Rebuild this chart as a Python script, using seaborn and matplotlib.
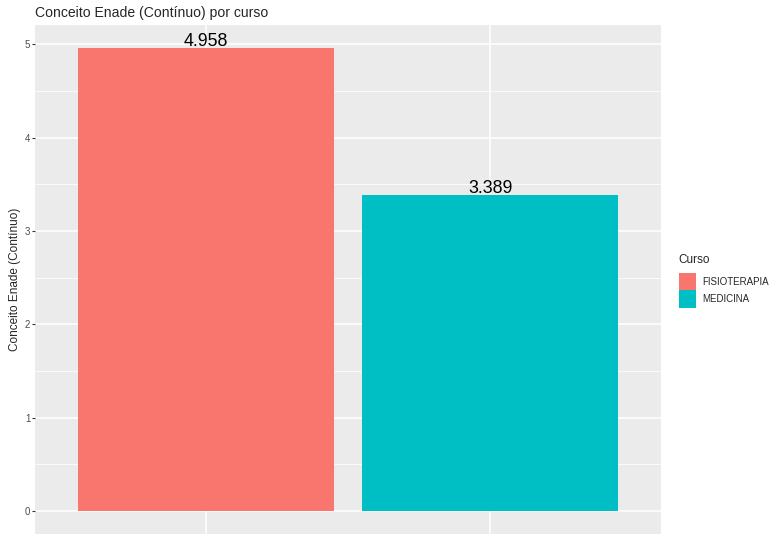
import numpy as np
import pandas as pd
import seaborn as sns
import matplotlib.pyplot as plt
from matplotlib.patches import Patch
from matplotlib.ticker import MultipleLocator

# dados do grafico
cursos = ["FISIOTERAPIA", "MEDICINA"]
conceito = [4.958, 3.389]
cores = ["#F8766D", "#00BFC4"]
y_ticks = [0, 1, 2, 3, 4, 5]

df = pd.DataFrame({"Curso": cursos, "Conceito": conceito})

sns.set_style("white")
plt.rcParams["font.family"] = ["Liberation Sans", "DejaVu Sans"]

fig = plt.figure(figsize=(7.71, 5.34), dpi=100)
ax = fig.add_axes([35 / 771, 0.0, (661 - 35) / 771, (534 - 25) / 534])

sns.barplot(data=df, x="Curso", y="Conceito", hue="Curso", palette=cores,
            width=0.9, dodge=False, legend=False, saturation=1,
            linewidth=0, edgecolor="none", ax=ax)

# rotulos em cima das barras
for i, v in enumerate(df["Conceito"]):
    ax.annotate(f"{v:.3f}", (i, v), xytext=(0, 2), textcoords="offset pixels",
                ha="center", va="baseline", fontsize=12.8, color="black")

# visual estilo ggplot
ymax = max(conceito)
ax.set_ylim(-0.05 * ymax, 1.05 * ymax)
ax.set_xlim(-0.6, 1.6)
ax.set_facecolor("#EBEBEB")
ax.set_yticks(y_ticks)
ax.yaxis.set_minor_locator(MultipleLocator(0.5))
ax.grid(True, which="major", color="white", linewidth=1.1)
ax.grid(True, which="minor", axis="y", color="white", linewidth=0.55)
ax.set_axisbelow(True)
for s in ax.spines.values():
    s.set_visible(False)
ax.tick_params(axis="y", which="major", length=2.2, color="#333333",
               labelsize=7, labelcolor="#4D4D4D", pad=1.2, left=True)
ax.tick_params(axis="y", which="minor", length=0)
ax.tick_params(axis="x", length=0, labelbottom=False)
ax.set_xlabel("")
ax.set_ylabel("Conceito Enade (Contínuo)", fontsize=8.5, labelpad=3)

fig.text(35 / 771, 1 - 13 / 534, "Conceito Enade (Contínuo) por curso",
         fontsize=10.1, ha="left", va="center")

handles = [Patch(facecolor=c, edgecolor="none") for c in cores]
leg = fig.legend(handles, cursos, title="Curso", loc="center left",
                 bbox_to_anchor=(671 / 771, 1 - 281 / 534), frameon=False,
                 fontsize=7, title_fontsize=8.5, handlelength=1.75,
                 handleheight=2.45, handletextpad=0.7, labelspacing=0.0,
                 borderpad=0.3)
leg._legend_box.align = "left"
leg._legend_box.sep = 5

fig.savefig("out.png", dpi=100)
